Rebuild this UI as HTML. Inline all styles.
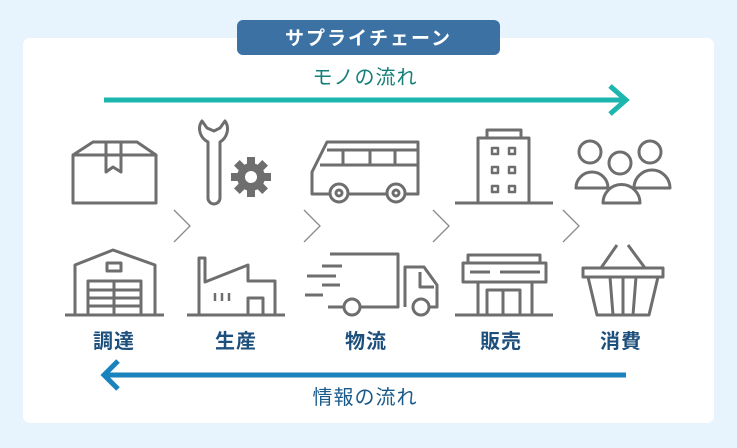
<!DOCTYPE html>
<html><head><meta charset="utf-8"><style>
html,body{margin:0;padding:0}
body{width:737px;height:448px;background:#e8f4fd;position:relative;overflow:hidden;font-family:"Liberation Sans","Noto Sans CJK JP",sans-serif}
</style></head><body>
<svg width="737" height="448" viewBox="0 0 737 448" xmlns="http://www.w3.org/2000/svg" style="position:absolute;left:0;top:0">
<rect x="23" y="38" width="691" height="385" rx="7" fill="#fff"/>
<rect x="237" y="20" width="263" height="35" rx="6" fill="#3b71a3"/>
<text x="368.5" y="44.5" text-anchor="middle" font-size="19" font-weight="bold" fill="#fff" letter-spacing="2" font-family="Noto Sans CJK JP, sans-serif">サプライチェーン</text>
<text x="365" y="84" text-anchor="middle" font-size="20" fill="#15807a" letter-spacing="1" font-family="Noto Sans CJK JP, sans-serif">モノの流れ</text>
<line x1="104" y1="100" x2="626" y2="100" stroke="#1bb6ad" stroke-width="5"/>
<polyline points="610,86 626,100 610,114" fill="none" stroke="#1bb6ad" stroke-width="5"/>
<line x1="106" y1="375" x2="626" y2="375" stroke="#1a82bd" stroke-width="5"/>
<polyline points="118,361 104,375 118,389" fill="none" stroke="#1a82bd" stroke-width="5"/>
<text x="365" y="404" text-anchor="middle" font-size="20" fill="#1a5a8a" letter-spacing="1" font-family="Noto Sans CJK JP, sans-serif">情報の流れ</text>
<g font-size="20" font-weight="bold" fill="#1d4f7c" text-anchor="middle" font-family="Noto Sans CJK JP, sans-serif" letter-spacing="1">
<text x="114" y="348">調達</text><text x="236" y="348">生産</text><text x="366" y="348">物流</text><text x="501" y="348">販売</text><text x="621" y="348">消費</text>
</g>
<g fill="none" stroke="#8a8a8a" stroke-width="1.3">
<polyline points="174,210 190,226 174,242"/><polyline points="304,210 320,226 304,242"/><polyline points="433,210 449,226 433,242"/><polyline points="563,210 579,226 563,242"/>
</g>
<g fill="none" stroke="#6e6e6e" stroke-width="3" stroke-linejoin="round">
<rect x="73" y="155" width="83" height="48"/>
<polyline points="73,155 93,142 137,142 156,155"/>
<polyline points="106,142 106,172 113,167 121,172 121,142"/>
<line x1="106" y1="155" x2="121" y2="155"/>
<path d="M208,198 L208,142 C200,138 197,128 202,121 L207,128 L214,131 L220,128 L225,121 C230,128 227,138 220,142 L220,198 A6,6 0 0 1 208,198 Z"/>
<path d="M327,142 L418,142 L418,194 L312,194 L312,172 Z"/>
<polyline points="320,165 418,165"/>
<polyline points="327,150 418,150"/>
<line x1="343" y1="150" x2="343" y2="165"/><line x1="370" y1="150" x2="370" y2="165"/><line x1="395" y1="150" x2="395" y2="165"/>
<circle cx="339" cy="193" r="9" fill="#fff"/><circle cx="339" cy="193" r="3"/>
<circle cx="396" cy="193" r="9" fill="#fff"/><circle cx="396" cy="193" r="3"/>
<rect x="478" y="138" width="51" height="65"/>
<rect x="487" y="130" width="34" height="8"/>
<line x1="455" y1="203" x2="553" y2="203"/>
<g stroke-width="2.5"><rect x="492" y="148" width="6" height="6"/><rect x="509" y="148" width="6" height="6"/><rect x="492" y="167" width="6" height="6"/><rect x="509" y="167" width="6" height="6"/><rect x="492" y="186" width="6" height="6"/><rect x="509" y="186" width="6" height="6"/></g>
<circle cx="590" cy="152" r="11"/><circle cx="650" cy="152" r="11"/><circle cx="620" cy="163" r="11"/>
<path d="M576,188 A16,16 0 0 1 608,188 Z"/>
<path d="M634,188 A17,17 0 0 1 670,188 Z"/>
<path d="M603,203 A18,18 0 0 1 640,203 Z" fill="#fff"/>
<polyline points="75,315 75,265 113,250 155,265 155,315"/>
<line x1="65" y1="315" x2="164" y2="315"/>
<rect x="88" y="281" width="53" height="34"/>
<line x1="88" y1="290" x2="141" y2="290"/><line x1="88" y1="298" x2="141" y2="298"/><line x1="88" y1="306" x2="141" y2="306"/><line x1="114" y1="281" x2="114" y2="315"/>
<rect x="107" y="263" width="14" height="8"/>
<polyline points="199,315 199,258 205,258 205,282 248,265 248,281 275,281 275,315"/>
<line x1="187" y1="315" x2="285" y2="315"/>
<rect x="248" y="298" width="15" height="17"/>
<g stroke-width="2.5"><line x1="215" y1="293" x2="215" y2="301"/><line x1="222" y1="293" x2="222" y2="301"/><line x1="229" y1="293" x2="229" y2="301"/></g>
<polyline points="330,254 398,254 398,307 361,307"/>
<polyline points="405,307 405,267 424,267 437,285 437,307 430,307"/>
<polyline points="420,272 420,287 434,287"/>
<line x1="343" y1="307" x2="328" y2="307"/>
<circle cx="352" cy="307" r="8" fill="#fff"/><circle cx="421" cy="307" r="8" fill="#fff"/>
<line x1="322" y1="266" x2="342" y2="266"/><line x1="307" y1="276" x2="336" y2="276"/><line x1="322" y1="285" x2="340" y2="285"/><line x1="305" y1="295" x2="323" y2="295"/>
<rect x="468" y="255" width="72" height="8"/>
<rect x="463" y="263" width="83" height="19"/>
<line x1="470" y1="272" x2="490" y2="272"/><line x1="500" y1="272" x2="540" y2="272"/>
<polyline points="478,282 478,315"/><polyline points="532,282 532,315"/>
<rect x="487" y="290" width="33" height="25"/><line x1="503" y1="290" x2="503" y2="315"/>
<line x1="455" y1="315" x2="553" y2="315"/>
<rect x="583" y="268" width="80" height="9"/>
<polygon points="588,277 658,277 649,315 597,315"/>
<line x1="610" y1="277" x2="613" y2="315"/><line x1="623" y1="277" x2="623" y2="315"/><line x1="636" y1="277" x2="633" y2="315"/>
<line x1="601" y1="268" x2="617" y2="245"/><line x1="645" y1="268" x2="628" y2="245"/>
</g>
<g transform="translate(251,177)" fill="#6e6e6e">
<circle r="14"/>
<g><rect x="-4" y="-20" width="8" height="40"/><rect x="-4" y="-20" width="8" height="40" transform="rotate(45)"/><rect x="-4" y="-20" width="8" height="40" transform="rotate(90)"/><rect x="-4" y="-20" width="8" height="40" transform="rotate(135)"/></g>
<circle r="6" fill="#fff"/>
</g>
</svg>
</body></html>
